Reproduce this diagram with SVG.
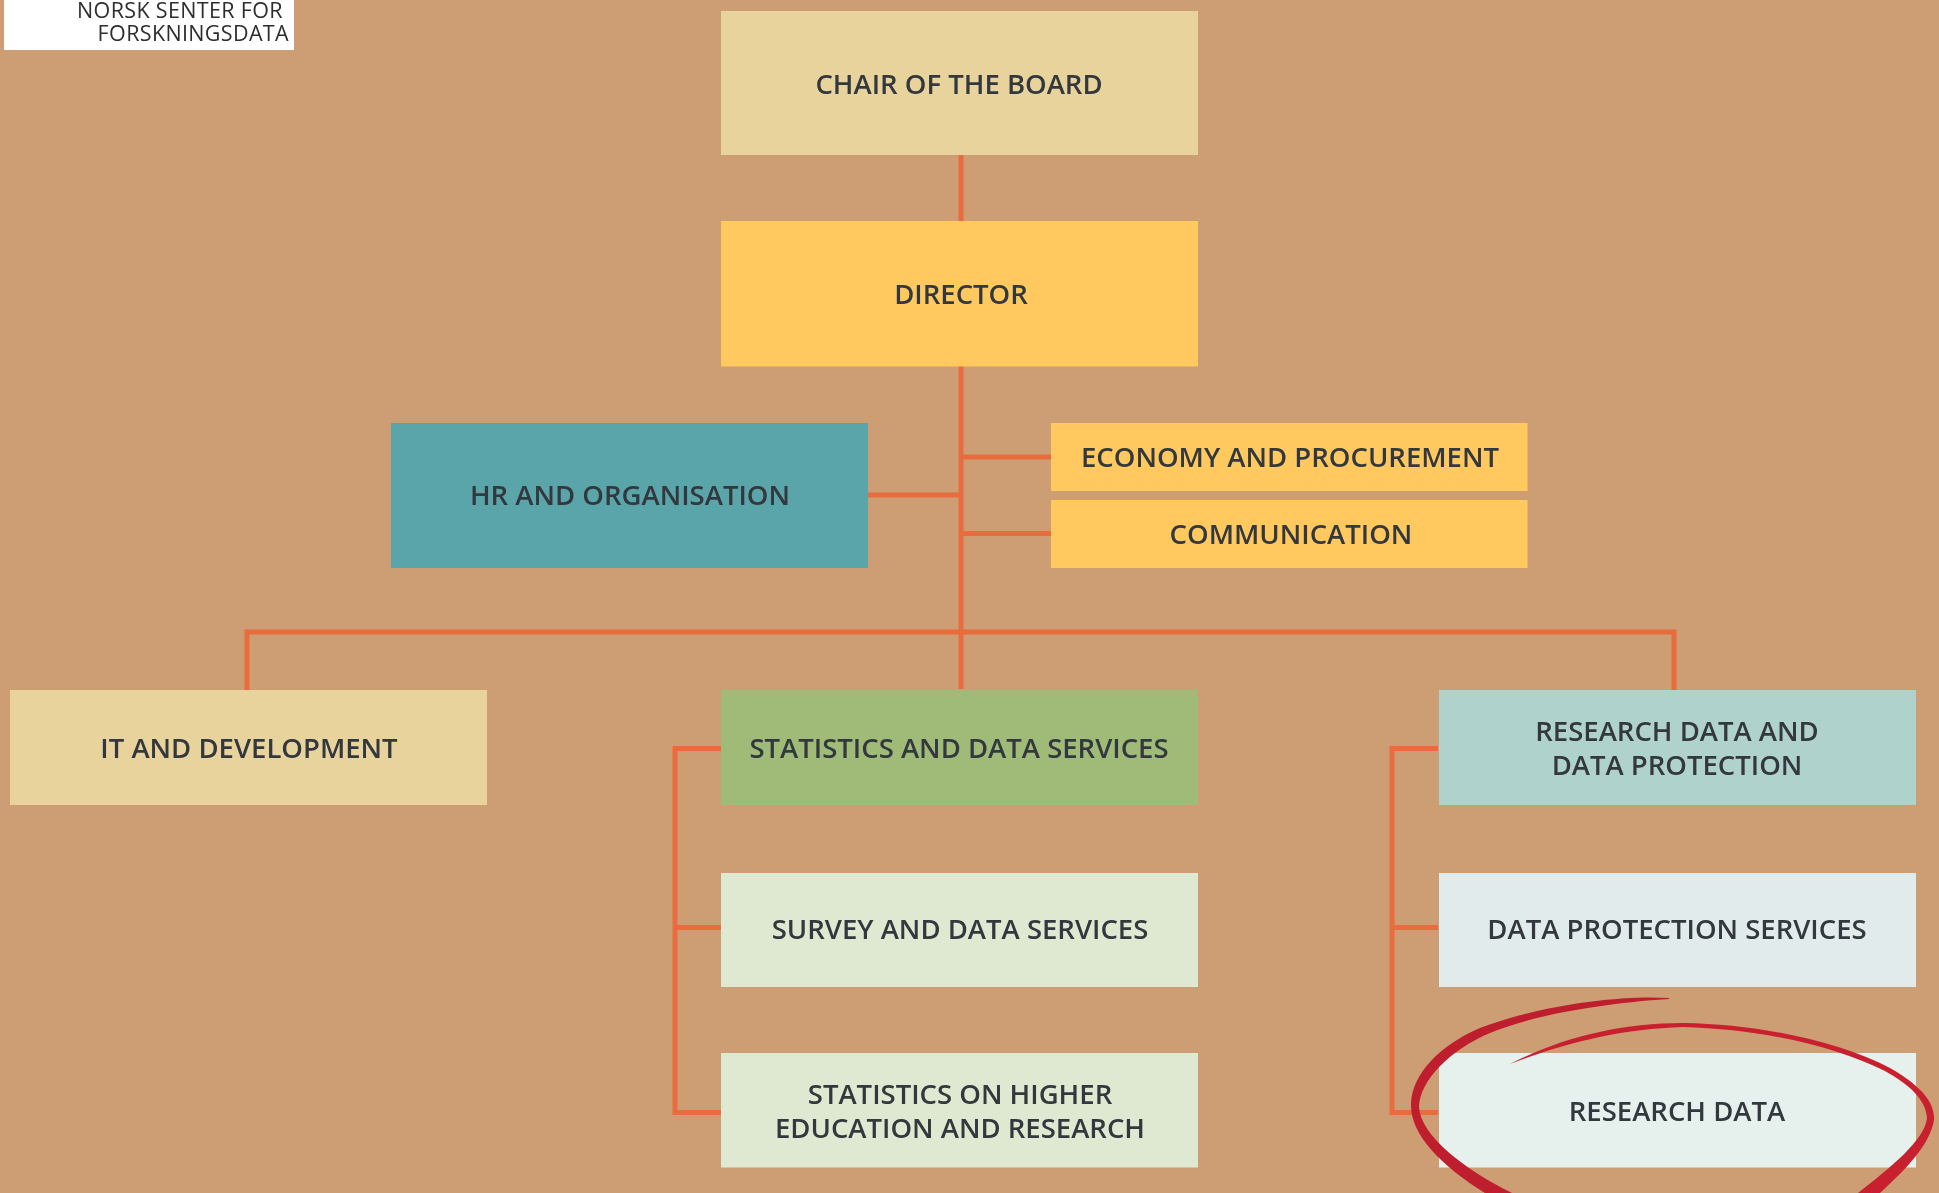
<svg xmlns="http://www.w3.org/2000/svg" width="1939" height="1193" viewBox="0 0 1939 1193">
<defs><filter id="soft" x="-5%" y="-5%" width="110%" height="110%"><feGaussianBlur stdDeviation="0.7"/></filter></defs>
<style>
text{font-family:"Open Sans","Noto Sans","Liberation Sans",sans-serif;font-weight:600;font-size:27.5px;fill:#33383c;text-anchor:middle;filter:url(#soft)}
.logo{font-weight:400;font-size:21.5px;text-anchor:end;fill:#2e2e2e;letter-spacing:.35px}
.conn{stroke:#E86C3E;stroke-width:5;fill:none}
.c1{fill:#E8D39C}.c2{fill:#FFC95F}.c3{fill:#5AA5A9}.c4{fill:#A0BB78}.c5{fill:#DFE8D0}.c6{fill:#B0D2CD}.c7{fill:#E2EBEC}.c8{fill:#E6F0EC}
</style>
<rect width="1939" height="1193" fill="#CD9E74"/>
<g id="logo"><rect x="4" y="0" width="290" height="50" fill="#fff"/>
<text class="logo" x="283" y="18">NORSK SENTER FOR</text>
<text class="logo" x="289" y="41">FORSKNINGSDATA</text></g>
<g id="connectors">
<path class="conn" d="M961 155V221M961 366V689M961 457H1051M961 533.500H1051M868 495H961M247 690V632H1674V690"/>
<path class="conn" d="M721 748.500H675V1112.500H721M675 927.500H721M1438 748.500H1392V1112.500H1438M1392 927.500H1438"/>
</g>
<g id="chair"><rect class="c1" x="721" y="11" width="477" height="144"/><text x="959" y="94">CHAIR OF THE BOARD</text></g>
<g id="director"><rect class="c2" x="721" y="221" width="477" height="145.500"/><text x="961" y="304">DIRECTOR</text></g>
<g id="hr"><rect class="c3" x="391" y="423" width="477" height="145"/><text x="630" y="505">HR AND ORGANISATION</text></g>
<g id="economy"><rect class="c2" x="1051" y="423" width="476.500" height="68"/><text x="1290" y="467">ECONOMY AND PROCUREMENT</text></g>
<g id="communication"><rect class="c2" x="1051" y="500" width="476.500" height="68"/><text x="1291" y="544">COMMUNICATION</text></g>
<g id="it"><rect class="c1" x="10" y="690" width="477" height="115"/><text x="249" y="758">IT AND DEVELOPMENT</text></g>
<g id="stats"><rect class="c4" x="721" y="690" width="477" height="115"/><text x="959" y="758">STATISTICS AND DATA SERVICES</text></g>
<g id="survey"><rect class="c5" x="721" y="873" width="477" height="114"/><text x="960" y="939">SURVEY AND DATA SERVICES</text></g>
<g id="higher"><rect class="c5" x="721" y="1053" width="477" height="114.500"/><text x="960" y="1104">STATISTICS ON HIGHER</text><text x="960" y="1138">EDUCATION AND RESEARCH</text></g>
<g id="rdp"><rect class="c6" x="1439" y="690" width="477" height="115"/><text x="1677" y="741">RESEARCH DATA AND</text><text x="1677" y="775">DATA PROTECTION</text></g>
<g id="dps"><rect class="c7" x="1439" y="873" width="477" height="114"/><text x="1677" y="939">DATA PROTECTION SERVICES</text></g>
<g id="rd"><rect class="c8" x="1439" y="1053" width="477" height="114.500"/><text x="1677" y="1121">RESEARCH DATA</text></g>
<g id="circle">
<path fill="#BE1E2D" d="M1669 998C1620 995 1540 1005 1480 1028C1440 1045 1410 1075 1411 1107C1412 1135 1440 1165 1485 1193H1512C1465 1170 1420 1135 1419 1107C1420 1080 1450 1050 1490 1033C1540 1012 1620 1002 1669 999Z"/>
<path fill="#C8202F" d="M1510 1064C1560 1038 1620 1023 1683 1023C1760 1024 1840 1042 1890 1068C1925 1088 1935 1105 1934 1120C1930 1145 1905 1170 1880 1193H1858C1890 1168 1925 1140 1927 1118C1926 1100 1910 1085 1885 1071C1835 1046 1760 1029 1683 1027C1620 1029 1565 1043 1510 1064Z"/>
</g>
</svg>
